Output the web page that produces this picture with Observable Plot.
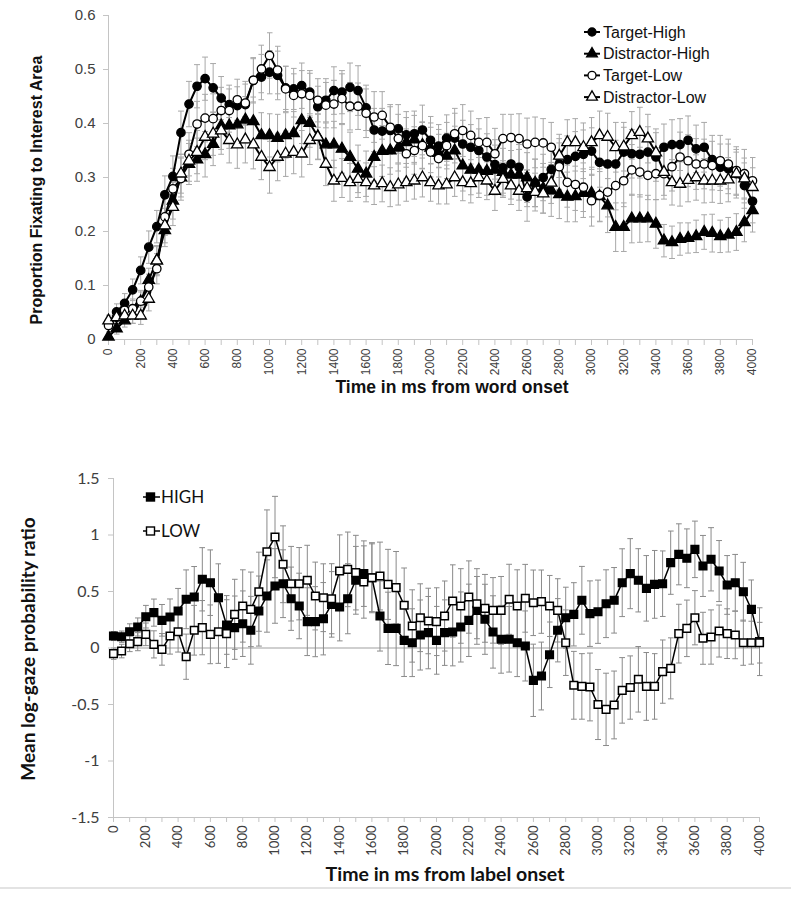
<!DOCTYPE html>
<html><head><meta charset="utf-8">
<script src="https://cdn.jsdelivr.net/npm/d3@7"></script>
<script src="https://cdn.jsdelivr.net/npm/@observablehq/plot@0.6"></script>
<style>
body{margin:0;background:#fff;}
#wrap{position:relative;width:791px;height:898px;overflow:hidden;background:#fff;}
#top{position:absolute;left:0;top:0;}
#bot{position:absolute;left:0;top:450px;}
#edge{position:absolute;left:0;top:887px;width:791px;height:2px;background:#e3e3e3;}
</style></head><body><div id="wrap"><div id="top"></div><div id="bot"></div><div id="edge"></div></div>
<script>
// ---- shared time grid (ms) ----
const times = [
0,50,100,150,200,250,300,350,400,450,
500,550,600,650,700,750,800,850,900,950,
1000,1050,1100,1150,1200,1250,1300,1350,1400,1450,
1500,1550,1600,1650,1700,1750,1800,1850,1900,1950,
2000,2050,2100,2150,2200,2250,2300,2350,2400,2450,
2500,2550,2600,2650,2700,2750,2800,2850,2900,2950,
3000,3050,3100,3150,3200,3250,3300,3350,3400,3450,
3500,3550,3600,3650,3700,3750,3800,3850,3900,3950,
4000];
const xTickValues = [0,100,200,300,400,500,600,700,800,900,1000,1100,1200,1300,1400,1500,1600,1700,1800,1900,2000,2100,2200,2300,2400,2500,2600,2700,2800,2900,3000,3100,3200,3300,3400,3500,3600,3700,3800,3900,4000];

// ---- top chart ----
const topNames = ["Target-High","Distractor-High","Target-Low","Distractor-Low"];
const topYTicks = [0,0.1,0.2,0.3,0.4,0.5,0.6];
const targetHigh = [
0.030,0.051,0.067,0.092,0.128,0.171,0.209,0.268,0.302,0.383,
0.436,0.469,0.483,0.466,0.447,0.435,0.433,0.435,0.480,0.486,
0.495,0.489,0.466,0.464,0.470,0.458,0.431,0.443,0.461,0.458,
0.467,0.461,0.429,0.388,0.386,0.387,0.390,0.379,0.381,0.388,
0.369,0.358,0.373,0.373,0.362,0.356,0.350,0.338,0.324,0.318,
0.325,0.319,0.264,0.290,0.300,0.315,0.325,0.333,0.339,0.343,
0.349,0.328,0.325,0.325,0.347,0.344,0.343,0.347,0.338,0.356,
0.361,0.361,0.369,0.353,0.356,0.333,0.319,0.316,0.307,0.285,
0.256];
const distractorHigh = [
0.005,0.020,0.035,0.045,0.070,0.110,0.146,0.202,0.257,0.300,
0.325,0.333,0.343,0.362,0.396,0.396,0.398,0.407,0.404,0.378,
0.378,0.373,0.378,0.382,0.406,0.401,0.376,0.361,0.361,0.353,
0.338,0.316,0.307,0.338,0.349,0.350,0.355,0.365,0.370,0.360,
0.355,0.345,0.340,0.350,0.322,0.314,0.314,0.312,0.314,0.310,
0.305,0.305,0.300,0.290,0.280,0.276,0.269,0.264,0.265,0.271,
0.271,0.265,0.248,0.208,0.208,0.224,0.224,0.224,0.214,0.183,
0.180,0.186,0.188,0.191,0.199,0.197,0.191,0.194,0.199,0.217,
0.239];
const targetLow = [
0.026,0.041,0.054,0.057,0.071,0.097,0.131,0.227,0.279,0.298,
0.343,0.399,0.410,0.409,0.424,0.424,0.444,0.438,0.480,0.501,
0.526,0.499,0.464,0.452,0.455,0.452,0.443,0.434,0.436,0.446,
0.432,0.432,0.419,0.412,0.415,0.393,0.372,0.344,0.350,0.359,
0.347,0.335,0.359,0.381,0.387,0.378,0.365,0.365,0.344,0.372,
0.374,0.372,0.362,0.365,0.364,0.356,0.320,0.291,0.287,0.282,
0.257,0.267,0.273,0.285,0.294,0.314,0.310,0.304,0.307,0.307,
0.320,0.338,0.331,0.325,0.325,0.322,0.331,0.325,0.313,0.307,
0.294];
const distractorLow = [
0.035,0.041,0.044,0.044,0.044,0.075,0.146,0.211,0.245,0.307,
0.331,0.347,0.375,0.381,0.387,0.369,0.361,0.370,0.361,0.338,
0.319,0.338,0.344,0.347,0.344,0.369,0.375,0.325,0.294,0.299,
0.291,0.297,0.291,0.285,0.289,0.282,0.287,0.291,0.294,0.300,
0.291,0.285,0.287,0.300,0.291,0.289,0.300,0.294,0.275,0.297,
0.285,0.275,0.280,0.273,0.270,0.290,0.340,0.365,0.365,0.356,
0.365,0.378,0.375,0.356,0.357,0.378,0.384,0.372,0.346,0.310,
0.291,0.288,0.295,0.300,0.294,0.294,0.294,0.296,0.307,0.298,
0.282];
const errTargetHigh = [
0.010,0.015,0.018,0.020,0.025,0.030,0.030,0.035,0.038,0.040,
0.042,0.040,0.040,0.045,0.040,0.036,0.035,0.038,0.040,0.042,
0.040,0.045,0.040,0.038,0.042,0.040,0.038,0.040,0.044,0.040,
0.045,0.046,0.042,0.040,0.042,0.044,0.045,0.043,0.042,0.046,
0.044,0.040,0.043,0.046,0.044,0.042,0.040,0.043,0.046,0.047,
0.044,0.042,0.045,0.044,0.043,0.046,0.047,0.044,0.046,0.045,
0.043,0.046,0.048,0.044,0.046,0.045,0.044,0.047,0.045,0.043,
0.046,0.048,0.045,0.044,0.046,0.045,0.043,0.046,0.045,0.042,
0.040];
const errDistractorHigh = [
0.005,0.010,0.012,0.015,0.018,0.022,0.026,0.030,0.034,0.036,
0.038,0.040,0.042,0.040,0.044,0.042,0.040,0.043,0.045,0.042,
0.040,0.044,0.042,0.040,0.043,0.045,0.042,0.040,0.043,0.045,
0.046,0.044,0.042,0.045,0.047,0.044,0.043,0.046,0.045,0.043,
0.046,0.044,0.042,0.045,0.047,0.046,0.043,0.045,0.046,0.044,
0.045,0.047,0.046,0.044,0.046,0.048,0.045,0.046,0.047,0.045,
0.044,0.046,0.050,0.045,0.045,0.045,0.044,0.043,0.045,0.030,
0.030,0.030,0.028,0.030,0.032,0.035,0.030,0.032,0.034,0.036,
0.040];
const errTargetLow = [
0.012,0.014,0.016,0.018,0.020,0.024,0.028,0.034,0.038,0.040,
0.040,0.042,0.044,0.046,0.043,0.040,0.038,0.040,0.042,0.044,
0.042,0.044,0.042,0.040,0.043,0.041,0.040,0.042,0.044,0.046,
0.044,0.043,0.045,0.047,0.044,0.042,0.045,0.046,0.044,0.043,
0.046,0.045,0.043,0.047,0.048,0.045,0.044,0.046,0.047,0.045,
0.043,0.046,0.048,0.047,0.045,0.046,0.044,0.046,0.048,0.045,
0.047,0.049,0.046,0.045,0.048,0.047,0.046,0.045,0.048,0.047,
0.045,0.046,0.048,0.047,0.046,0.045,0.047,0.046,0.044,0.045,
0.043];
const errDistractorLow = [
0.010,0.012,0.012,0.014,0.016,0.022,0.028,0.032,0.034,0.036,
0.038,0.040,0.042,0.040,0.044,0.042,0.044,0.043,0.045,0.042,
0.048,0.044,0.042,0.040,0.043,0.045,0.042,0.040,0.038,0.036,
0.035,0.034,0.036,0.035,0.034,0.036,0.038,0.035,0.034,0.036,
0.035,0.034,0.036,0.035,0.034,0.036,0.037,0.035,0.036,0.034,
0.035,0.036,0.034,0.035,0.036,0.038,0.040,0.042,0.044,0.045,
0.046,0.045,0.044,0.046,0.045,0.044,0.046,0.045,0.044,0.043,
0.042,0.041,0.040,0.042,0.041,0.040,0.042,0.041,0.040,0.038,
0.036];

// ---- bottom chart ----
const botNames = ["HIGH","LOW"];
const botYTicks = [-1.5,-1,-0.5,0,0.5,1,1.5];
const ratioHigh = [
0.106,0.100,0.144,0.186,0.277,0.313,0.245,0.274,0.327,0.431,
0.451,0.608,0.578,0.445,0.204,0.180,0.215,0.157,0.327,0.460,
0.549,0.569,0.436,0.372,0.233,0.233,0.259,0.386,0.363,0.436,
0.599,0.658,0.622,0.283,0.174,0.174,0.068,0.047,0.115,0.136,
0.068,0.136,0.142,0.186,0.245,0.333,0.254,0.142,0.077,0.077,
0.047,0.018,-0.286,-0.248,-0.060,0.157,0.268,0.298,0.422,0.304,
0.321,0.392,0.422,0.578,0.658,0.599,0.528,0.563,0.569,0.755,
0.829,0.794,0.873,0.726,0.785,0.681,0.558,0.578,0.498,0.342,
0.056];
const ratioLow = [
-0.050,-0.027,0.038,0.056,0.121,0.032,-0.012,0.106,0.144,-0.077,
0.157,0.180,0.121,0.144,0.127,0.298,0.372,0.342,0.498,0.852,
0.982,0.741,0.569,0.569,0.599,0.460,0.445,0.436,0.681,0.696,
0.667,0.584,0.622,0.637,0.563,0.534,0.378,0.195,0.268,0.239,
0.233,0.283,0.416,0.372,0.451,0.392,0.351,0.333,0.333,0.431,
0.372,0.440,0.400,0.410,0.372,0.333,0.047,-0.330,-0.340,-0.345,
-0.500,-0.543,-0.504,-0.375,-0.350,-0.277,-0.340,-0.340,-0.209,-0.180,
0.127,0.174,0.268,0.086,0.097,0.150,0.127,0.115,0.047,0.047,
0.047];
const errRatioHigh = [
0.040,0.050,0.070,0.080,0.100,0.120,0.140,0.160,0.200,0.260,
0.270,0.280,0.290,0.300,0.260,0.280,0.290,0.300,0.310,0.320,
0.330,0.300,0.280,0.290,0.300,0.310,0.320,0.290,0.300,0.310,
0.300,0.290,0.300,0.310,0.320,0.330,0.320,0.300,0.310,0.320,
0.300,0.290,0.300,0.310,0.320,0.300,0.310,0.320,0.300,0.290,
0.300,0.310,0.320,0.300,0.290,0.280,0.270,0.280,0.300,0.290,
0.280,0.300,0.290,0.300,0.310,0.280,0.290,0.300,0.290,0.280,
0.270,0.260,0.250,0.270,0.280,0.270,0.260,0.250,0.260,0.260,
0.300];
const errRatioLow = [
0.050,0.060,0.070,0.080,0.100,0.120,0.140,0.160,0.180,0.200,
0.220,0.240,0.260,0.280,0.300,0.310,0.320,0.330,0.350,0.370,
0.360,0.340,0.330,0.320,0.310,0.300,0.300,0.310,0.320,0.330,
0.330,0.320,0.310,0.300,0.310,0.320,0.330,0.320,0.300,0.290,
0.300,0.310,0.320,0.330,0.320,0.310,0.300,0.290,0.300,0.310,
0.320,0.300,0.290,0.280,0.270,0.280,0.290,0.300,0.290,0.300,
0.310,0.320,0.300,0.290,0.280,0.290,0.300,0.290,0.280,0.270,
0.260,0.250,0.240,0.230,0.240,0.230,0.220,0.210,0.200,0.190,
0.180];

// ---- build tables ----
const topVals = [targetHigh, distractorHigh, targetLow, distractorLow];
const topErrs = [errTargetHigh, errDistractorHigh, errTargetLow, errDistractorLow];
const topData = topNames.flatMap((n,k)=> times.map((t,i)=>({series:n, t, v:topVals[k][i], e:topErrs[k][i]})));
const botVals = [ratioHigh, ratioLow];
const botErrs = [errRatioHigh, errRatioLow];
const botData = botNames.flatMap((n,k)=> times.map((t,i)=>({series:n, t, v:botVals[k][i], e:botErrs[k][i]})));

const topStyle = {
  "Target-High":{symbol:"circle", fill:"#000"},
  "Distractor-High":{symbol:"triangle", fill:"#000"},
  "Target-Low":{symbol:"circle", fill:"#fff"},
  "Distractor-Low":{symbol:"triangle", fill:"#fff"}
};
const botStyle = {"HIGH":{fill:"#000"}, "LOW":{fill:"#fff"}};

const arial = "'Liberation Sans', Arial, sans-serif";
const cal = "Lato, 'Open Sans', sans-serif";

// ---- top plot ----
const topPlot = Plot.plot({
  width:791, height:400,
  marginLeft:108, marginRight:39, marginTop:15, marginBottom:61,
  style:{fontFamily:arial, background:"transparent", overflow:"visible"},
  x:{domain:[0,4000]},
  y:{domain:[0,0.6]},
  marks:[
    Plot.link(topData, {x1:"t", x2:"t", y1:d=>d.v-d.e, y2:d=>d.v+d.e, stroke:"#a8a8a8", strokeWidth:1, markerStart:"tick", markerEnd:"tick"}),
    Plot.ruleY([0], {stroke:"#c4c4c4"}),
    Plot.ruleX([0], {stroke:"#c4c4c4"}),
    Plot.axisX({ticks:xTickValues, tickFormat:d=> d%200===0 ? String(d) : "", tickRotate:-90, tickSize:6, tickPadding:3, stroke:"#c4c4c4", fill:"#404040", fontSize:12, label:null}),
    Plot.axisY({ticks:topYTicks, tickFormat:d=> d===0 ? "0" : d.toFixed(1), tickSize:5, tickPadding:8, stroke:"#c4c4c4", fill:"#404040", fontSize:15, label:null}),
    Plot.line(topData, {x:"t", y:"v", z:"series", stroke:"#000", strokeWidth:2}),
    ...topNames.map(n => Plot.dot(topData.filter(d=>d.series===n), {x:"t", y:"v", symbol:topStyle[n].symbol, fill:topStyle[n].fill, stroke:"#000", strokeWidth:1.3, r:4.2}))
  ]
});
document.getElementById("top").appendChild(topPlot);
{
  const svg = d3.select(topPlot);
  svg.append("text").attr("x",452).attr("y",393).attr("text-anchor","middle")
    .attr("font-family",arial).attr("font-weight","bold").attr("font-size",17.5).attr("fill","#111")
    .text("Time in ms from word onset");
  svg.append("text").attr("transform","translate(42,190) rotate(-90)").attr("text-anchor","middle")
    .attr("font-family",arial).attr("font-weight","bold").attr("font-size",16).attr("fill","#111")
    .text("Proportion Fixating to Interest Area");
  const lg = svg.append("g");
  topNames.forEach((n,k)=>{
    const cy = 32 + k*21.7;
    lg.append("line").attr("x1",584).attr("x2",600).attr("y1",cy).attr("y2",cy).attr("stroke","#000").attr("stroke-width",2);
    lg.append("path").attr("transform",`translate(592,${cy})`)
      .attr("d", d3.symbol(topStyle[n].symbol==="circle"?d3.symbolCircle:d3.symbolTriangle, Math.PI*4*4)())
      .attr("fill",topStyle[n].fill).attr("stroke","#000").attr("stroke-width",1.3);
    lg.append("text").attr("x",603).attr("y",cy).attr("dy","0.35em").attr("text-anchor","start")
      .attr("font-family",arial).attr("font-size",16).attr("fill","#111").text(n);
  });
}

// ---- bottom plot ----
const botPlot = Plot.plot({
  width:791, height:448,
  marginLeft:113, marginRight:32, marginTop:28, marginBottom:81,
  style:{fontFamily:cal, background:"transparent", overflow:"visible"},
  x:{domain:[0,4000]},
  y:{domain:[-1.5,1.5]},
  marks:[
    Plot.ruleY([0], {stroke:"#a0a0a0", strokeWidth:1.2}),
    Plot.ruleY([-1.5], {stroke:"#c4c4c4"}),
    Plot.ruleX([0], {stroke:"#c4c4c4"}),
    Plot.link(botData, {x1:"t", x2:"t", y1:d=>d.v-d.e, y2:d=>d.v+d.e, stroke:"#8a8a8a", strokeWidth:1, markerStart:"tick", markerEnd:"tick"}),
    Plot.axisX({ticks:xTickValues, tickFormat:d=> d%200===0 ? String(d) : "", tickRotate:-90, tickSize:5, tickPadding:3, stroke:"#c4c4c4", fill:"#404040", fontSize:13, label:null}),
    Plot.axisY({ticks:botYTicks, tickFormat:d=> String(d), tickSize:5, tickPadding:9, stroke:"#c4c4c4", fill:"#404040", fontSize:16, label:null}),
    Plot.line(botData, {x:"t", y:"v", z:"series", stroke:"#000", strokeWidth:1.5}),
    ...botNames.map(n => Plot.dot(botData.filter(d=>d.series===n), {x:"t", y:"v", symbol:"square", fill:botStyle[n].fill, stroke:"#000", strokeWidth:1.5, r:4.3}))
  ]
});
document.getElementById("bot").appendChild(botPlot);
{
  const svg = d3.select(botPlot);
  svg.append("text").attr("x",445).attr("y",431).attr("text-anchor","middle")
    .attr("font-family",cal).attr("font-weight","bold").attr("font-size",19.5).attr("fill","#111")
    .text("Time in ms from label onset");
  svg.append("text").attr("transform","translate(35,199) rotate(-90)").attr("text-anchor","middle")
    .attr("font-family",cal).attr("font-weight","bold").attr("font-size",19).attr("fill","#111")
    .text("Mean log-gaze probability ratio");
  const lg = svg.append("g");
  botNames.forEach((n,k)=>{
    const cy = 47 + k*34;
    lg.append("line").attr("x1",143).attr("x2",160).attr("y1",cy).attr("y2",cy).attr("stroke","#000").attr("stroke-width",1.5);
    lg.append("rect").attr("x",146.5).attr("y",cy-4).attr("width",8).attr("height",8)
      .attr("fill",botStyle[n].fill).attr("stroke","#000").attr("stroke-width",1.4);
    lg.append("text").attr("x",161).attr("y",cy).attr("dy","0.36em").attr("text-anchor","start")
      .attr("font-family",cal).attr("font-size",17).attr("fill","#111").text(n);
  });
}
</script></body></html>
